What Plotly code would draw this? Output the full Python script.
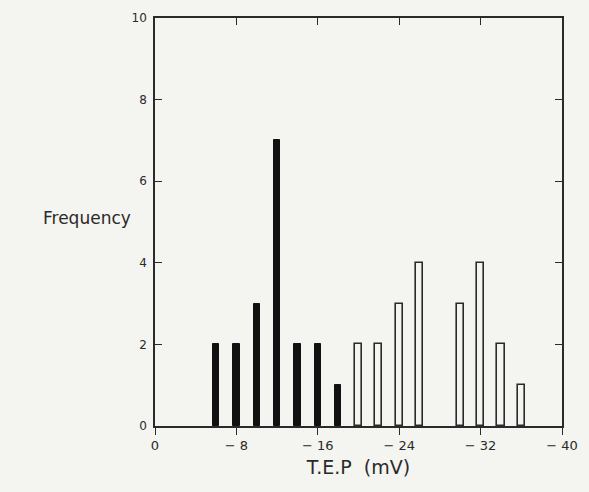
import plotly.graph_objects as go

filled_x = [-6, -8, -10, -12, -14, -16, -18]
filled_y = [2, 2, 3, 7, 2, 2, 1]
open_x = [-20, -22, -24, -26, -30, -32, -34, -36]
open_y = [2, 2, 3, 4, 3, 4, 2, 1]
x_ticks = [0, -8, -16, -24, -32, -40]
x_ticktext = ["0", "\u2212 8", "\u2212 16", "\u2212 24", "\u2212 32", "\u2212 40"]
y_ticks = [0, 2, 4, 6, 8, 10]

bg = "#f4f4f0"
ink = "#2a2a2a"
font = "DejaVu Sans"

fig = go.Figure()
fig.add_trace(go.Bar(x=filled_x, y=filled_y, width=0.62,
                     marker=dict(color="#111111", line=dict(color="#111111", width=1))))
fig.add_trace(go.Bar(x=open_x, y=open_y, width=0.7,
                     marker=dict(color=bg, line=dict(color=ink, width=1.6))))
fig.add_trace(go.Scatter(x=[None], y=[None], xaxis="x2", showlegend=False, hoverinfo="skip"))

fig.update_layout(
    width=589, height=492,
    margin=dict(l=155, r=27, t=18, b=66),
    paper_bgcolor=bg, plot_bgcolor=bg,
    showlegend=False, bargap=0,
    font=dict(family=font, color=ink),
    xaxis=dict(range=[0, -40], tickvals=x_ticks, ticktext=x_ticktext,
               ticks="outside", ticklen=7, tickwidth=1.2, tickcolor=ink,
               showline=True, linecolor=ink, linewidth=1.5, mirror=True,
               showgrid=False, zeroline=False,
               tickfont=dict(size=13, family=font, color=ink),
               title=dict(text="T.E.P  (mV)", font=dict(size=19, family=font, color=ink), standoff=8)),
    xaxis2=dict(range=[0, -40], overlaying="x", side="top", tickvals=x_ticks,
                ticks="inside", ticklen=7, tickwidth=1.2, tickcolor=ink,
                showticklabels=False, showgrid=False, zeroline=False, showline=False),
    yaxis=dict(range=[0, 10], tickvals=y_ticks, ticks="inside", ticklen=7,
               tickwidth=1.2, tickcolor=ink, showline=True, linecolor=ink,
               linewidth=1.5, mirror="ticks", showgrid=False, zeroline=False,
               tickfont=dict(size=12, family=font, color=ink), ticklabelstandoff=4),
    annotations=[dict(text="Frequency", xref="paper", yref="paper", x=-0.055, y=0.51,
                      xanchor="right", yanchor="middle", showarrow=False,
                      font=dict(size=17, family=font, color=ink))],
)

fig.write_html("out.html", config={"displayModeBar": False},
               post_script="document.body.style.margin='0';")
